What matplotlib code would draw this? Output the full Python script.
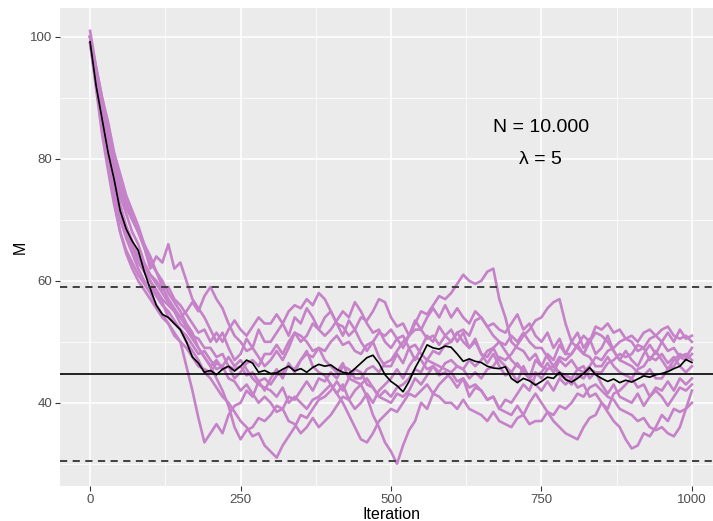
import numpy as np
import matplotlib
matplotlib.use("Agg")
import matplotlib.pyplot as plt
from matplotlib.ticker import MultipleLocator

plt.rcParams['font.family'] = ['Liberation Sans', 'DejaVu Sans']

# iterations sampled every 10 steps
iteration = np.arange(0, 1001, 10)

# individual chains (every 10 iterations)
chain_1 = [100, 94, 89, 84, 79.5, 75, 72, 70, 68, 65.5,
           62, 64, 63, 66, 62, 63, 60, 57, 55.5, 54,
           52, 50, 51.5, 49, 47, 48, 50.5, 49, 52, 50,
           50, 51.5, 53, 51, 54, 53, 55.5, 54, 52, 54,
           55, 53, 51, 53.5, 52, 50, 48.5, 50, 47.5, 46,
           46, 48, 46.5, 49, 47, 49, 51, 50, 52.5, 51,
           52, 50, 51.5, 49, 50, 48, 46.5, 48, 46, 44.5,
           45, 43.5, 46, 44, 47, 46, 48, 47, 49.5, 48,
           50, 51.5, 49, 50.5, 48, 49, 51, 48.5, 47, 48.5,
           47, 46, 48, 49.5, 48, 50, 51.5, 50, 52, 50.5,
           51]
chain_2 = [100, 92, 85, 79, 73, 68, 65, 63, 61, 59.5,
           58, 56, 54.5, 53, 51, 50, 46, 42, 37.5, 33.5,
           35, 36.5, 35, 38, 39.5, 40, 42, 41, 43.5, 42,
           44, 45.5, 44, 46.5, 45, 47, 48.5, 46, 45, 44.5,
           43, 41.5, 43, 40.5, 39, 40, 41.5, 40, 42, 43,
           44, 45.5, 44, 46, 47.5, 47, 45.5, 46, 44.5, 45,
           44, 42.5, 44, 41, 42.5, 42, 40.5, 41, 39, 40.5,
           40, 41.5, 43, 42, 44.5, 45, 46.5, 45, 47, 46,
           47, 45.5, 46, 44, 45, 43, 41.5, 43, 41, 40.5,
           40, 41.5, 39.5, 41, 42.5, 42, 43.5, 42, 44, 43,
           44]
chain_3 = [101, 95, 90, 86, 81, 77.5, 74, 71.5, 69, 66,
           64, 61.5, 59, 57, 55.5, 54, 55, 56.5, 55, 57.5,
           59, 57, 55.5, 53, 51, 50, 48.5, 49, 47.5, 46,
           47, 48.5, 47, 49, 51.5, 50, 51, 53, 52, 51,
           52, 53.5, 55, 54, 56.5, 55, 53, 51.5, 52, 50,
           49, 50.5, 49, 51, 53.5, 52, 54, 55.5, 54, 56,
           54, 55.5, 54, 53, 55, 54, 52.5, 53, 52, 51.5,
           53, 54.5, 52, 53, 51, 50, 51.5, 49, 50.5, 48,
           48, 49.5, 51, 50, 52.5, 52, 53, 51.5, 52, 50.5,
           50, 48.5, 49, 47, 48.5, 47, 45.5, 47, 48, 47.5,
           49]
chain_4 = [99, 92.5, 86, 80, 75, 70, 67, 64.5, 62, 60,
           59, 57.5, 56, 55, 53.5, 52, 50, 48.5, 47, 45,
           44, 42.5, 41, 40, 38.5, 37, 36, 34.5, 35, 33,
           32, 31, 33, 34.5, 36, 38, 37.5, 39, 40.5, 41,
           42, 43.5, 42, 44, 45.5, 45, 43, 42.5, 41, 40.5,
           40, 41.5, 41, 42, 44, 43, 44.5, 46, 45, 46.5,
           47, 46, 45.5, 44, 45, 44, 45.5, 46, 47.5, 47,
           48, 49.5, 51, 52, 53.5, 54, 55.5, 56.5, 57, 53,
           50, 49, 48, 47.5, 46, 46, 47.5, 46, 45, 44.5,
           44, 45.5, 46, 47.5, 47, 48, 46.5, 47.5, 46, 45,
           46]
chain_5 = [100, 93.5, 87.5, 82, 77, 72.5, 69, 66.5, 64, 62,
           60, 58, 56.5, 54, 53, 52, 51, 49.5, 48, 48.5,
           47, 45.5, 46, 44, 43.5, 42, 43, 41.5, 40, 41,
           40, 38.5, 39, 37, 36.5, 35, 36, 37.5, 36, 37,
           38, 39.5, 41, 40.5, 42, 43, 41, 38, 36, 33.5,
           32, 30, 33, 35.5, 37, 40, 39, 41.5, 43, 44,
           45, 43.5, 44, 42.5, 43, 42, 40.5, 41, 39, 38.5,
           38, 39.5, 38, 40, 41.5, 40, 38.5, 37, 36, 35,
           34.5, 34, 36, 37.5, 38, 40, 39, 41.5, 42, 43,
           44, 42.5, 43, 41, 42, 41, 39.5, 41, 42.5, 42,
           43]
chain_6 = [100, 94.5, 88, 83.5, 78.5, 74, 71, 68, 66, 63,
           61, 60, 58.5, 59, 57, 56, 54.5, 53, 51.5, 52,
           50, 51.5, 50, 52, 53.5, 52, 51, 52.5, 54, 53,
           53, 54.5, 53, 55, 56, 55.5, 57, 56, 58, 57,
           55, 53, 52.5, 51, 52, 54, 53.5, 55, 57, 56.5,
           54, 52.5, 53, 51, 52, 52, 50.5, 51, 49.5, 51,
           50, 51.5, 50, 49, 50.5, 48, 47.5, 49, 47, 46,
           45, 46.5, 45, 44, 43, 42, 43.5, 42, 44, 43,
           44, 42.5, 43, 41, 41.5, 40, 38.5, 37, 36, 34,
           32.5, 33, 35, 34.5, 36, 38, 37, 39, 38.5, 39,
           40]
chain_7 = [100, 95, 90, 85.5, 80.5, 76, 73, 70.5, 68, 65.5,
           63, 61.5, 60, 58, 56.5, 55, 53, 51.5, 49, 47.5,
           46, 47, 45.5, 46, 44, 45, 46.5, 47, 46, 48,
           48, 49.5, 48, 50, 51.5, 51, 50, 48.5, 49, 47,
           46, 45, 46.5, 44, 43.5, 43, 44, 42.5, 41, 42,
           41, 42.5, 43, 44, 45.5, 45, 47, 48.5, 48, 49.5,
           50, 51.5, 52, 51, 53.5, 54, 52.5, 51, 50, 48.5,
           47, 46, 45.5, 44, 45, 44, 45.5, 46, 47.5, 47,
           48, 49.5, 48, 50, 51.5, 51, 50, 48.5, 47, 46.5,
           46, 45, 44.5, 45.5, 44, 44, 45.5, 46, 47.5, 47,
           48]
chain_8 = [100, 93, 87, 81.5, 76.5, 72, 68.5, 66, 64, 62.5,
           61, 59.5, 58, 56.5, 55, 53, 52, 50.5, 49, 47.5,
           46, 44, 42, 39.5, 36, 34, 35.5, 36, 37.5, 37,
           38, 39.5, 39, 41, 40.5, 42, 43.5, 42, 44, 43.5,
           45, 44, 46, 45.5, 44, 44, 45.5, 46, 45, 46.5,
           47, 48.5, 50, 51, 53, 55, 54.5, 56, 57.5, 57,
           58, 59.5, 61, 60, 59.5, 60, 61.5, 62, 57, 54,
           50, 49, 48.5, 47, 48, 46, 45.5, 46, 44.5, 44,
           43, 44.5, 44, 45.5, 45, 45, 46.5, 47, 48, 47.5,
           48, 49.5, 49, 50.5, 51, 50, 48.5, 49, 47.5, 48,
           47]
chain_9 = [99, 91.5, 84, 78, 72.5, 68, 64.5, 62, 60, 58.5,
           57, 55.5, 54, 53, 51.5, 50, 49, 47.5, 46, 45.5,
           45, 46.5, 46, 47.5, 46, 47, 45.5, 44, 43, 42.5,
           42, 41, 42.5, 40, 41, 40, 39, 40.5, 41, 42,
           43, 41.5, 40, 38, 36, 34, 33.5, 35, 37, 38,
           39, 38.5, 40, 41.5, 41, 42, 43, 41.5, 41, 40,
           40, 39, 40.5, 39, 38.5, 38, 37, 38.5, 37, 36.5,
           36, 37.5, 38, 36.5, 37, 37, 38.5, 38, 39.5, 39,
           40, 41.5, 41, 42.5, 43, 42, 41, 40.5, 39, 38.5,
           38, 37, 37.5, 36, 35.5, 36, 35, 34.5, 36, 39,
           42]
chain_10 = [100, 93, 86.5, 81, 76, 71.5, 68, 65.5, 63, 61.5,
            60, 58.5, 57, 56, 55, 54, 52.5, 51, 50.5, 49,
            49, 47.5, 48, 46, 45.5, 46, 44.5, 45, 43.5, 44,
            43, 44.5, 45, 46, 45.5, 47, 48, 47.5, 49, 48.5,
            50, 51, 49.5, 50, 48.5, 48, 49.5, 50, 51.5, 51,
            52, 50.5, 51, 49, 49.5, 48, 47, 46.5, 46, 45.5,
            45, 46, 45.5, 47, 46, 47, 48.5, 49, 50, 49.5,
            51, 50, 51.5, 50, 49, 49, 47.5, 46, 45, 44.5,
            44, 45.5, 45, 46, 47.5, 47, 48.5, 49, 50, 50.5,
            51, 50, 51.5, 52, 51, 52, 52.5, 51, 50.5, 51,
            50]
chains = [chain_1, chain_2, chain_3, chain_4, chain_5,
          chain_6, chain_7, chain_8, chain_9, chain_10]

# average over chains (black line)
mean_m = [99.2, 92, 86.5, 81, 76.6, 71.5, 68.5, 66.5, 65, 61.5,
          58.7, 56, 54.5, 54, 53, 52, 50, 47.5, 46.5, 45,
          45.3, 44.6, 45.5, 46, 45.2, 46, 47, 46.5, 45, 45.3,
          44.8, 44.9, 45.5, 46, 45.2, 45.6, 45, 45.8, 46.3, 46,
          46.2, 45.5, 45, 44.8, 45.6, 46.5, 47.4, 47.8, 46.5, 44.6,
          43.5, 42.8, 41.8, 43.5, 45.7, 47.5, 49.5, 49, 48.8, 49.3,
          49.1, 48, 46.8, 47.2, 46.8, 46.6, 46, 45.7, 45.6, 45.9,
          44, 43.3, 44, 43.6, 42.9, 43.5, 44.2, 44, 45, 43.8,
          43.4, 44, 44.8, 45.8, 44.6, 44, 43.5, 43.9, 43.3, 43.7,
          43.4, 43.9, 44.4, 44.2, 44.6, 44.8, 45.1, 45.6, 46, 47.1,
          46.6]

# reference lines
m_true = 44.7
m_lower = 30.5
m_upper = 59.0

fig = plt.figure(figsize=(7.13, 5.21), dpi=100)
ax = fig.add_axes([60 / 713, 35 / 521, 662 / 713, 478 / 521])

ax.set_facecolor("#EBEBEB")
for s in ax.spines.values():
    s.set_visible(False)

for c in chains:
    ax.plot(iteration, c, color="#C682C8", lw=1.9, zorder=2)
ax.plot(iteration, mean_m, color="black", lw=1.2, zorder=3)

ax.axhline(m_true, color="black", lw=1.2, zorder=4)
for h in (m_lower, m_upper):
    ax.axhline(h, color="#333333", lw=1.3, ls=(0, (4, 3)), zorder=4)

ax.text(749, 85.1, "N = 10.000", ha="center", va="center", fontsize=14, color="black")
ax.text(749, 79.9, "λ = 5", ha="center", va="center", fontsize=14, color="black")

ax.set_xlim(-50, 1050)
ax.set_ylim(26.35, 104.75)
ax.xaxis.set_major_locator(MultipleLocator(250))
ax.xaxis.set_minor_locator(MultipleLocator(125))
ax.yaxis.set_major_locator(MultipleLocator(20))
ax.yaxis.set_minor_locator(MultipleLocator(10))
ax.grid(which="major", color="white", lw=1.1, zorder=0)
ax.grid(which="minor", color="white", lw=0.55, zorder=0)
ax.set_axisbelow(True)
ax.tick_params(which="major", length=3.5, width=0.8, color="#333333",
               labelsize=9.5, labelcolor="#4D4D4D", pad=2)
ax.tick_params(which="minor", length=0)

ax.set_xlabel("Iteration", fontsize=11.5, labelpad=1)
ax.set_ylabel("M", fontsize=11.5, labelpad=2)

fig.savefig("out.png", dpi=100)
